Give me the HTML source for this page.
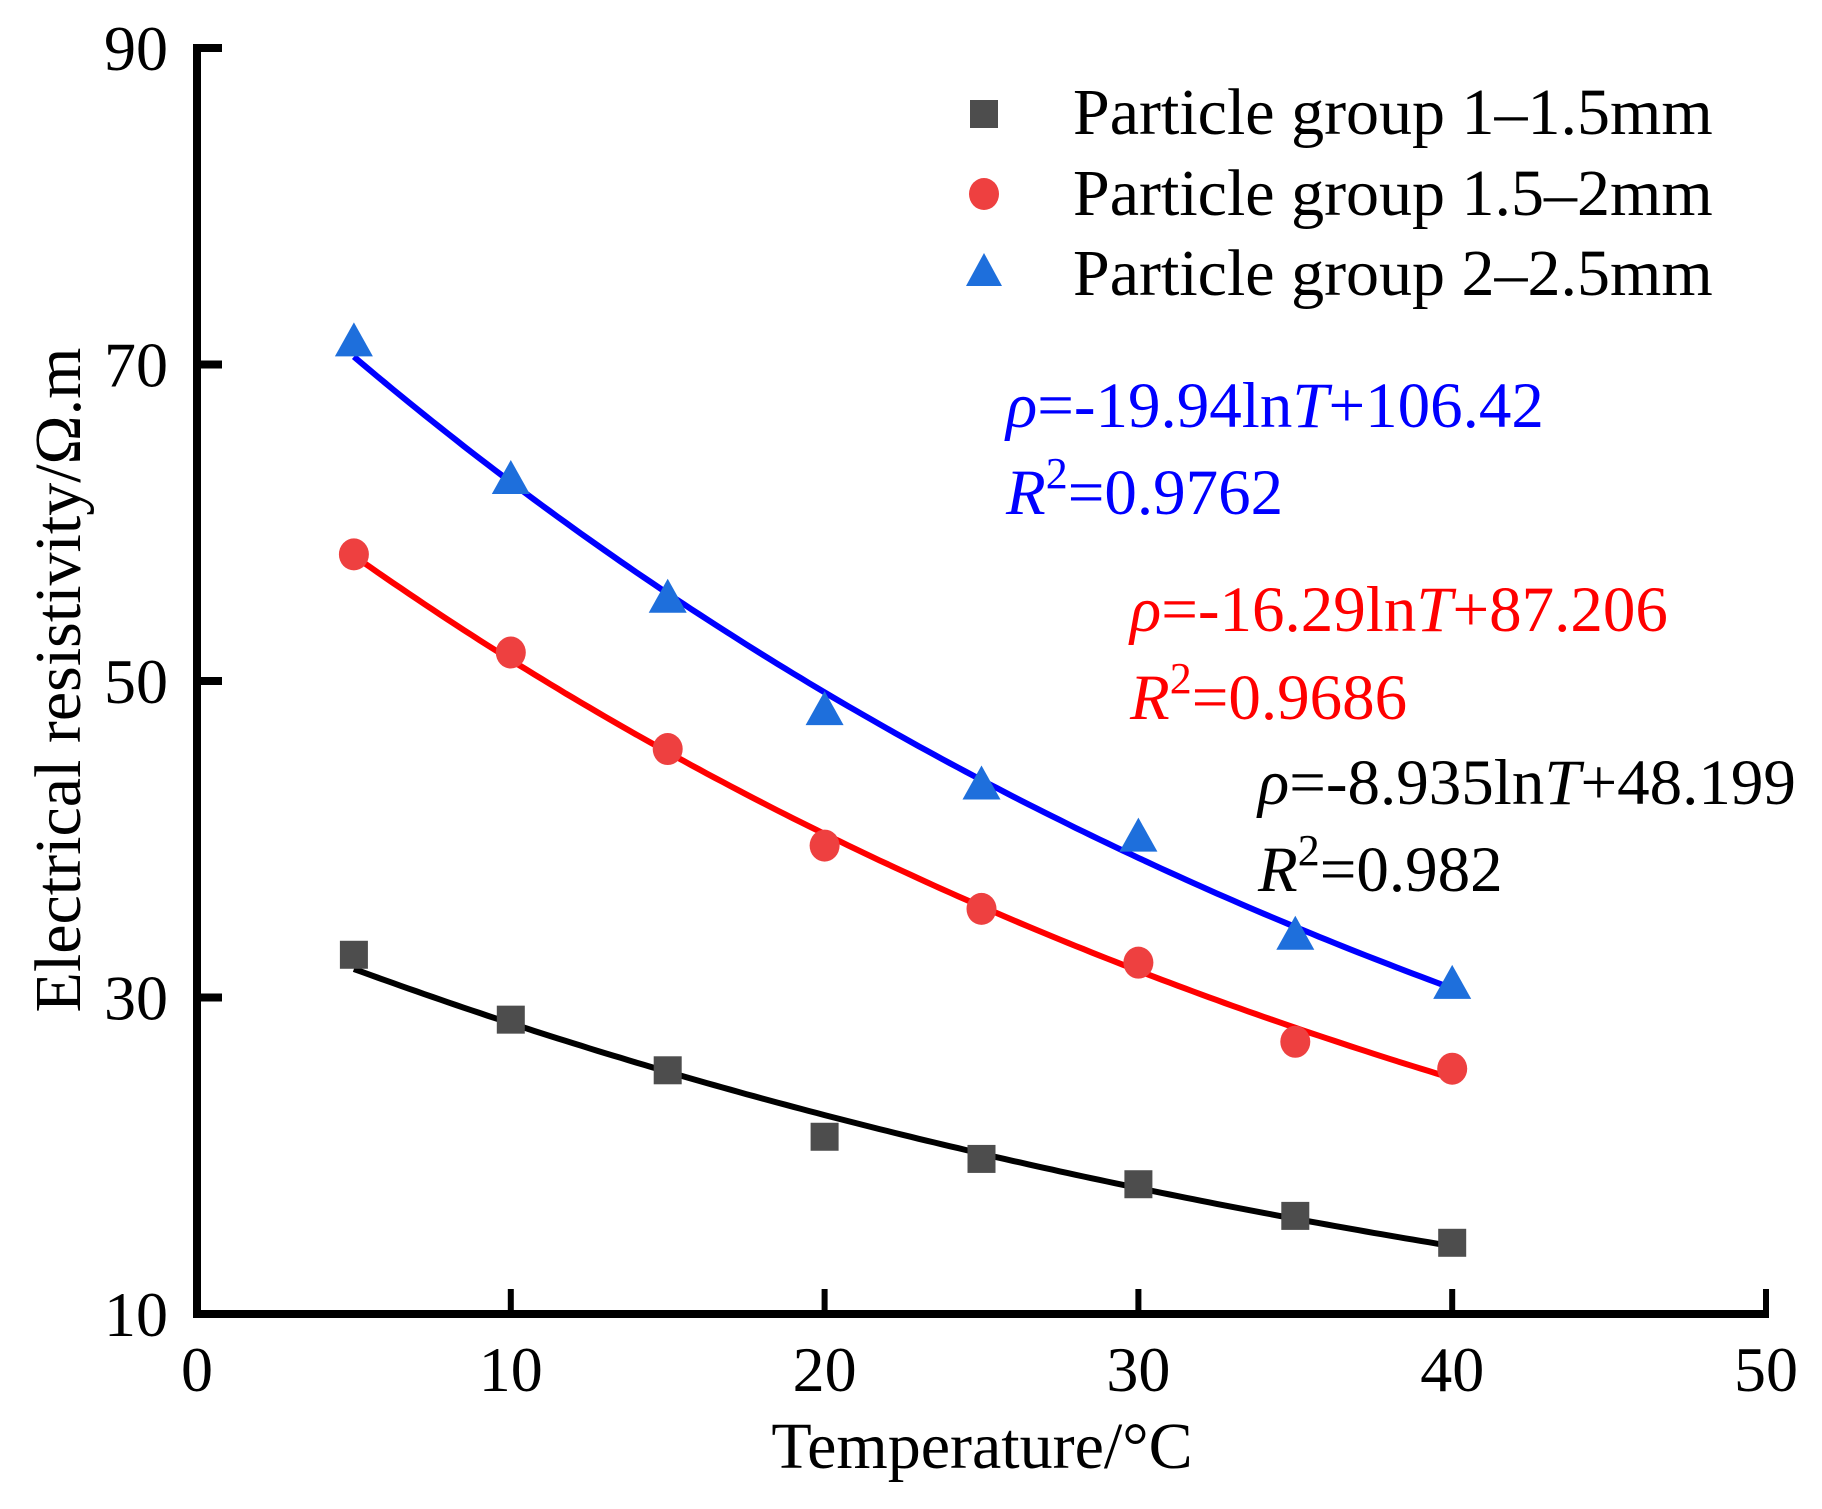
<!DOCTYPE html>
<html><head><meta charset="utf-8"><style>
html,body{margin:0;padding:0;background:#fff;}
svg{display:block;font-family:"Liberation Serif","Times New Roman",serif;}
</style></head><body>
<svg id="chart" width="1822" height="1509" viewBox="0 0 1822 1509" xmlns="http://www.w3.org/2000/svg">
<g id="axes"></g>
<g id="curves"></g>
<g id="marks"></g>
<g id="legend">
  <rect x="970" y="100" width="28" height="28" fill="#4d4d4d"/>
  <text x="1073" y="134" font-size="66">Particle group 1–1.5mm</text>
  <ellipse cx="984" cy="194" rx="15" ry="16" fill="#ee4040"/>
  <text x="1073" y="215" font-size="66">Particle group 1.5–2mm</text>
  <polygon points="984,253 966,286 1002,286" fill="#1e6fdc"/>
  <text x="1073" y="295" font-size="66">Particle group 2–2.5mm</text>
</g>
<g font-size="65">
  <text x="1006" y="427" fill="#0000ff"><tspan font-style="italic">ρ</tspan>=-19.94ln<tspan font-style="italic">T</tspan>+106.42</text>
  <text x="1006" y="514" fill="#0000ff"><tspan font-style="italic">R</tspan><tspan font-size="44" dy="-26">2</tspan><tspan dy="26">=0.9762</tspan></text>
  <text x="1130" y="631" fill="#ff0000"><tspan font-style="italic">ρ</tspan>=-16.29ln<tspan font-style="italic">T</tspan>+87.206</text>
  <text x="1130" y="719" fill="#ff0000"><tspan font-style="italic">R</tspan><tspan font-size="44" dy="-26">2</tspan><tspan dy="26">=0.9686</tspan></text>
  <text x="1258" y="804" fill="#000"><tspan font-style="italic">ρ</tspan>=-8.935ln<tspan font-style="italic">T</tspan>+48.199</text>
  <text x="1258" y="891" fill="#000"><tspan font-style="italic">R</tspan><tspan font-size="44" dy="-26">2</tspan><tspan dy="26">=0.982</tspan></text>
</g>
<text x="982" y="1468" font-size="66" text-anchor="middle">Temperature/°C</text>
<text transform="translate(80,680) rotate(-90)" font-size="66" text-anchor="middle">Electrical resistivity/Ω.m</text>
</svg>
<script>
const temps = [5, 10, 15, 20, 25, 30, 35, 40];
const group1 = [32.7, 28.6, 25.4, 21.2, 19.8, 18.2, 16.2, 14.5];
const group2 = [58.0, 51.8, 45.7, 39.6, 35.6, 32.2, 27.2, 25.5];
const group3 = [71.4, 62.7, 55.2, 48.1, 43.4, 40.1, 33.9, 30.8];
const xTicks = [0, 10, 20, 30, 40, 50];
const yTicks = [10, 30, 50, 70, 90];

const NS = 'http://www.w3.org/2000/svg';
const X0 = 197, X1 = 1766, Y0 = 1314, Y1 = 48;
function sx(v){ return X0 + (v - 0) / 50 * (X1 - X0); }
function sy(v){ return Y0 - (v - 10) / 80 * (Y0 - Y1); }
function mk(tag, attrs, parent){ const e = document.createElementNS(NS, tag); for (const k in attrs) e.setAttribute(k, attrs[k]); parent.appendChild(e); return e; }
function expFit(xs, ys){
  const n = xs.length; let sxv=0, sly=0, sxx=0, sxy=0;
  for (let i=0;i<n;i++){ const l=Math.log(ys[i]); sxv+=xs[i]; sly+=l; sxx+=xs[i]*xs[i]; sxy+=xs[i]*l; }
  const b=(n*sxy-sxv*sly)/(n*sxx-sxv*sxv); const a=(sly-b*sxv)/n;
  return t => Math.exp(a + b*t);
}

const axes = document.getElementById('axes');
let e;
e = mk('line', {x1: X0, y1: Y1 - 4, x2: X0, y2: Y0 + 4, stroke: '#000', 'stroke-width': 8}, axes);


e = mk('line', {x1: X0 - 4, y1: Y0, x2: X1 + 3, y2: Y0, stroke: '#000', 'stroke-width': 8}, axes);


xTicks.forEach(t => {
  if (t > 0) {
    e = mk('line', {x1: sx(t), y1: Y0, x2: sx(t), y2: Y0 - 25, stroke: '#000', 'stroke-width': 6}, axes);
    
    
  }
  e = mk('text', {x: sx(t), y: 1391, 'font-size': 64, 'text-anchor': 'middle'}, axes);
  e.textContent = t;
  
  
});
yTicks.forEach(t => {
  if (t > 10) {
    e = mk('line', {x1: X0, y1: sy(t), x2: X0 + 25, y2: sy(t), stroke: '#000', 'stroke-width': 8}, axes);
    
    
  }
  e = mk('text', {x: 168, y: sy(t) + 22, 'font-size': 64, 'text-anchor': 'end'}, axes);
  e.textContent = t;
  
  
});

const curves = document.getElementById('curves');
const colors = ['#000000', '#ff0000', '#0000ff'];
const names = ['fit-curve-1-1.5mm', 'fit-curve-1.5-2mm', 'fit-curve-2-2.5mm'];
const series = [group1, group2, group3];
for (let i = 0; i < 3; i++) {
  const f = expFit(temps, series[i]);
  let d = '';
  for (let T = temps[0]; T <= temps[temps.length - 1] + 1e-9; T += 0.25) {
    d += (d ? 'L' : 'M') + sx(T).toFixed(1) + ',' + sy(f(T)).toFixed(1);
  }
  e = mk('path', {d: d, fill: 'none', stroke: colors[i], 'stroke-width': 6}, curves);
  
  
}

const marks = document.getElementById('marks');
temps.forEach((t, j) => {
  e = mk('rect', {x: sx(t) - 14, y: sy(group1[j]) - 14, width: 28, height: 28, fill: '#4d4d4d'}, marks);
  
  
  e = mk('ellipse', {cx: sx(t), cy: sy(group2[j]), rx: 15, ry: 16, fill: '#ee4040'}, marks);
  
  
  const cx = sx(t), cy = sy(group3[j]);
  e = mk('polygon', {points: cx + ',' + (cy - 20) + ' ' + (cx - 19) + ',' + (cy + 14) + ' ' + (cx + 19) + ',' + (cy + 14), fill: '#1e6fdc'}, marks);
  
  
});
</script>
</body></html>
